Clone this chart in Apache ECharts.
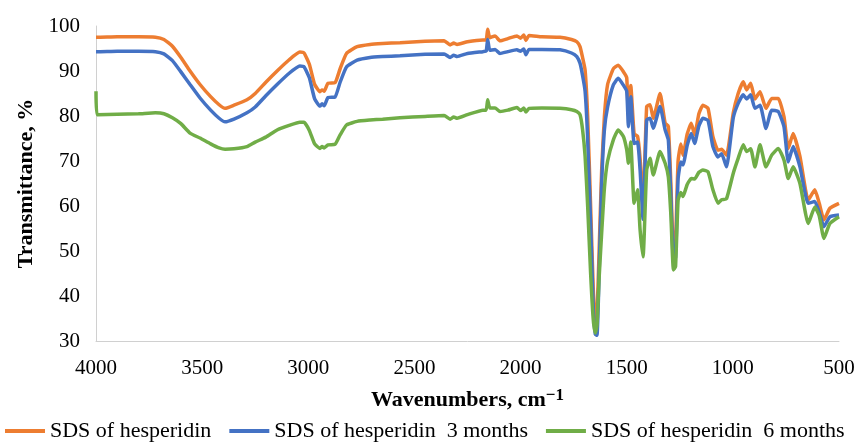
<!DOCTYPE html>
<html>
<head>
<meta charset="utf-8">
<script src="https://cdn.jsdelivr.net/npm/echarts@6/dist/echarts.min.js"></script>
<style>
  html, body { margin: 0; padding: 0; background: #fff; }
  #chart { width: 858px; height: 445px; }
</style>
</head>
<body>
<div id="chart"></div>
<script>
// wavenumbers (cm-1), shared by all three spectra
var wavenumbers = [
  4000, 3995, 3900, 3800, 3720, 3680, 3640, 3600, 3557, 3510,
  3460, 3420, 3392, 3350, 3289, 3250, 3200, 3147, 3090, 3040,
  3020, 2995, 2970, 2945, 2935, 2925, 2907, 2874, 2850, 2820,
  2770, 2709, 2650, 2568, 2450, 2360, 2332, 2315, 2299, 2250,
  2177, 2162, 2155, 2145, 2120, 2097, 2060, 2017, 2000, 1985,
  1975, 1960, 1900, 1814, 1760, 1735, 1720, 1708, 1696, 1684,
  1670, 1658, 1648, 1640, 1630, 1618, 1605, 1590, 1563, 1540,
  1515, 1500, 1492, 1481, 1465, 1449, 1437, 1423, 1406, 1390,
  1375, 1343, 1319, 1304, 1292, 1280, 1270, 1258, 1245, 1235,
  1215, 1196, 1180, 1160, 1141, 1117, 1094, 1070, 1053, 1030,
  998, 975, 951, 935, 916, 896, 872, 844, 817, 786,
  759, 739, 716, 684, 645, 614, 593, 571, 543, 500
]

var sdsFresh = [
  97.5, 97.5, 97.6, 97.6, 97.5, 97.0, 95.5, 93.0, 90.0, 87.0,
  84.3, 82.5, 81.7, 82.4, 83.6, 85.0, 87.5, 90.0, 92.5, 94.2,
  94.0, 91.5, 87.0, 85.4, 85.8, 85.5, 87.3, 87.4, 90.5, 93.9,
  95.4, 95.9, 96.1, 96.3, 96.6, 96.7, 95.8, 96.2, 95.9, 96.5,
  96.9, 96.9, 99.3, 97.4, 97.8, 96.7, 97.2, 97.8, 97.3, 98.0,
  96.8, 97.9, 97.6, 97.5, 97.0, 96.5, 95.4, 93.0, 90.2, 80.0,
  60.0, 42.0, 33.0, 36.0, 50.0, 68.0, 80.0, 87.0, 90.5, 91.3,
  89.8, 88.5, 80.0, 86.8, 76.0, 75.5, 70.5, 60.0, 82.1, 82.5,
  79.5, 85.0, 78.4, 77.7, 65.0, 50.0, 52.0, 70.0, 73.8, 71.3,
  76.0, 78.4, 75.8, 80.5, 82.4, 81.7, 75.4, 72.4, 72.6, 71.3,
  80.7, 85.0, 87.6, 85.8, 87.3, 83.8, 85.4, 81.7, 83.9, 83.9,
  79.8, 72.8, 76.1, 71.0, 61.3, 63.6, 60.6, 56.9, 59.5, 60.6
]

var sds3Months = [
  94.3, 94.3, 94.4, 94.4, 94.3, 93.8, 92.3, 89.8, 87.0, 84.0,
  81.3, 79.5, 78.7, 79.3, 80.7, 82.0, 84.5, 87.0, 89.5, 91.1,
  90.9, 88.5, 83.8, 82.2, 82.7, 82.3, 84.1, 84.2, 87.5, 90.9,
  92.4, 93.0, 93.2, 93.4, 93.7, 93.8, 93.0, 93.5, 93.2, 93.9,
  94.3, 94.4, 97.0, 94.6, 94.8, 93.9, 94.3, 94.7, 94.4, 94.9,
  93.6, 94.8, 94.8, 94.7, 94.0, 93.2, 91.7, 89.0, 85.5, 75.0,
  56.0, 38.0, 31.5, 31.3, 45.0, 65.0, 77.0, 82.0, 86.9, 88.4,
  86.8, 85.5, 77.6, 84.3, 73.9, 74.2, 68.0, 57.0, 79.1, 79.5,
  77.3, 82.1, 76.9, 74.7, 62.0, 48.0, 48.5, 66.0, 69.8, 69.1,
  73.5, 76.1, 73.9, 77.8, 79.5, 79.0, 73.2, 70.9, 71.6, 68.7,
  79.6, 82.8, 84.7, 83.8, 84.7, 81.7, 82.4, 77.2, 81.3, 81.0,
  77.6, 69.8, 73.2, 68.7, 60.6, 61.0, 58.6, 55.4, 57.6, 58.0
]

var sds6Months = [
  85.5, 80.3, 80.4, 80.5, 80.7, 80.5, 79.6, 78.3, 76.2, 75.1,
  73.8, 72.9, 72.6, 72.7, 73.2, 74.2, 75.3, 76.9, 77.9, 78.6,
  78.6, 76.8, 73.8, 72.8, 73.2, 72.9, 73.6, 73.7, 75.8, 78.0,
  78.8, 79.1, 79.3, 79.6, 79.9, 80.1, 79.3, 79.8, 79.5, 80.3,
  81.3, 81.3, 83.6, 81.8, 81.8, 81.0, 81.3, 81.9, 81.2, 81.8,
  80.9, 81.7, 81.8, 81.7, 81.4, 81.0, 80.3, 77.0, 71.0, 60.0,
  45.0, 35.0, 31.8, 33.5, 44.0, 54.0, 64.0, 70.0, 74.7, 76.9,
  75.4, 72.5, 69.5, 74.2, 60.6, 63.6, 54.7, 48.7, 68.0, 70.6,
  66.9, 72.1, 69.5, 66.5, 58.0, 45.8, 46.5, 61.3, 63.0, 62.1,
  64.8, 66.1, 66.0, 67.5, 68.0, 67.6, 63.6, 60.6, 61.4, 61.6,
  67.3, 70.6, 73.6, 72.1, 72.7, 68.7, 73.6, 68.7, 71.3, 72.8,
  70.2, 66.1, 68.7, 65.0, 56.1, 59.8, 57.8, 52.8, 56.1, 57.6
]

var seriesNames = ['SDS of hesperidin', 'SDS of hesperidin  3 months', 'SDS of hesperidin  6 months']
var seriesColors = ['#ED7D31', '#4472C4', '#70AD47']

function pairs(values) {
  var out = []
  for (let i = 0; i < wavenumbers.length; i++) {
    out.push([wavenumbers[i], values[i]])
  }
  return out
}

var myChart = echarts.init(document.getElementById('chart'), null, { renderer: 'canvas' })
var font = 'Liberation Serif'

var allValues = [sdsFresh, sds3Months, sds6Months]
var series = []
for (let k = 0; k < 3; k++) {
  series.push({
    name: seriesNames[k],
    type: 'line',
    data: pairs(allValues[k]),
    showSymbol: false,
    symbol: 'none',
    smooth: 0.15,
    color: seriesColors[k],
    lineStyle: { width: 3.5, color: seriesColors[k] }
  })
}

var option = {
  animation: false,
  backgroundColor: '#fff',
  textStyle: { fontFamily: font },
  grid: { left: 96, right: 19, top: 26, bottom: 104 },
  legend: {
    bottom: -2,
    left: 0,
    icon: 'rect',
    itemWidth: 40,
    itemHeight: 4,
    itemGap: 18,
    textStyle: { fontFamily: font, fontSize: 22, color: '#000' },
    data: seriesNames
  },
  xAxis: {
    type: 'value',
    inverse: true,
    min: 500,
    max: 4000,
    interval: 500,
    name: 'Wavenumbers, cm{sup|\u22121}',
    nameLocation: 'middle',
    nameGap: 46,
    nameTextStyle: {
      fontFamily: font, fontSize: 22, fontWeight: 'bold', color: '#000',
      rich: { sup: { fontFamily: font, fontSize: 17, fontWeight: 'bold', color: '#000', verticalAlign: 'top', padding: [0, 0, 10, 0] } }
    },
    axisLine: { show: true, lineStyle: { color: '#d0d0d0', width: 1 } },
    axisTick: { show: false },
    splitLine: { show: false },
    axisLabel: {
      fontFamily: font, fontSize: 21, color: '#000', margin: 17,
      formatter: function(v) { return String(v) }
    }
  },
  yAxis: {
    type: 'value',
    min: 30,
    max: 100,
    interval: 10,
    name: 'Transmittance, %',
    nameLocation: 'middle',
    nameGap: 57,
    nameTextStyle: { fontFamily: font, fontSize: 22, fontWeight: 'bold', color: '#000' },
    axisLine: { show: true, lineStyle: { color: '#d0d0d0', width: 1 } },
    axisTick: { show: false },
    splitLine: { show: false },
    axisLabel: { fontFamily: font, fontSize: 21, color: '#000', margin: 16 }
  },
  series: series
}

option && myChart.setOption(option)
</script>
</body>
</html>
